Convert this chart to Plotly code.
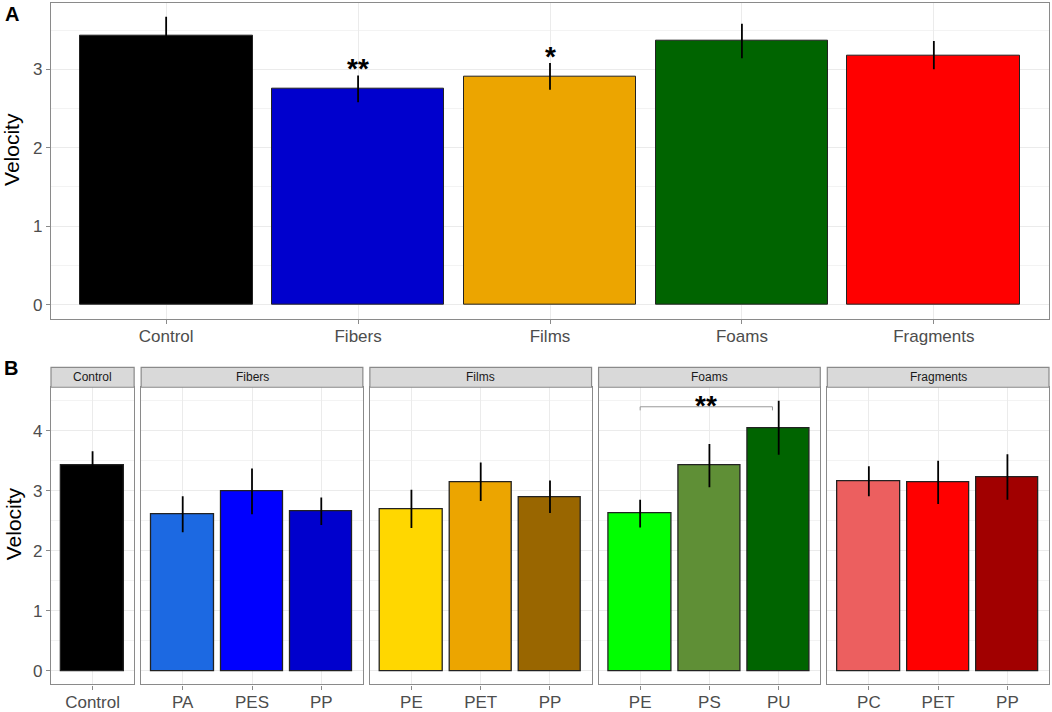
import plotly.graph_objects as go

W, H = 1052, 712

# Panel A: mean velocity by particle shape
shapes_a = ["Control", "Fibers", "Films", "Foams", "Fragments"]
vel_a = [3.43, 2.75, 2.91, 3.36, 3.18]
err_a = [0.24, 0.17, 0.17, 0.22, 0.18]
col_a = ["#000000", "#0000CD", "#ECA500", "#006400", "#FF0000"]
stars_a = ["", "**", "*", "", ""]

# Panel B: velocity by polymer within each shape
groups_b = ["Control", "Fibers", "Films", "Foams", "Fragments"]
polymers_b = [["Control"], ["PA", "PES", "PP"], ["PE", "PET", "PP"],
              ["PE", "PS", "PU"], ["PC", "PET", "PP"]]
vel_b = [[3.43], [2.61, 2.99, 2.66], [2.70, 3.15, 2.90],
         [2.62, 3.42, 4.05], [3.16, 3.14, 3.23]]
err_b = [[0.23], [0.30, 0.38, 0.23], [0.32, 0.32, 0.27],
         [0.23, 0.36, 0.45], [0.25, 0.36, 0.38]]
col_b = [["#000000"], ["#1C69E2", "#0000FF", "#0000CD"],
         ["#FFD700", "#ECA500", "#996600"], ["#00FF00", "#5F8F36", "#006400"],
         ["#EC5F5F", "#FF0000", "#A10000"]]

# significance bracket in Foams panel (PE vs PU)
bracket_panel = 3
bracket_from, bracket_to = 0, 1.91
bracket_y, bracket_tip = 4.40, 4.34
bracket_label = "**"

FONT = "Liberation Sans, Arial, sans-serif"
BORDER = "#8A8A8A"
GRID = "#EBEBEB"
TICKFONT = dict(family=FONT, size=17, color="#4D4D4D")
STARFONT = dict(family=FONT, size=28, color="black")


def fx(px):
    return px / W


def fy(py):
    return 1 - py / H


def style_x(n):
    return dict(type="category", range=[-0.6, n - 0.4], showline=True, mirror=True,
                linecolor=BORDER, linewidth=1.2, ticks="outside", ticklen=4,
                tickcolor=BORDER, tickfont=TICKFONT, ticklabelstandoff=-2,
                showgrid=True, gridcolor=GRID, gridwidth=1, zeroline=False,
                fixedrange=True)


def style_y(rng, top, labels):
    return dict(range=rng, tickvals=list(range(0, top + 1)), showline=True, mirror=True,
                linecolor=BORDER, linewidth=1.2, ticks="outside" if labels else "",
                ticklen=4, tickcolor=BORDER, tickfont=TICKFONT, showticklabels=labels,
                showgrid=True, gridcolor=GRID, gridwidth=1, zeroline=False,
                minor=dict(dtick=0.5, showgrid=True, gridcolor="#F3F3F3", gridwidth=0.6),
                fixedrange=True)


def paper_text(x, y, text, size, color="black", angle=0, anchor="center"):
    return dict(x=fx(x), y=fy(y), xref="paper", yref="paper", text=text,
                textangle=angle, showarrow=False, xanchor=anchor, yanchor="middle",
                font=dict(family=FONT, size=size, color=color))


fig = go.Figure()
layout = {}
annotations = []
shapes = []

# ---- Panel A
fig.add_trace(go.Bar(
    x=shapes_a, y=vel_a, width=0.9, xaxis="x", yaxis="y",
    marker=dict(color=col_a, line=dict(color="#222222", width=1)),
    error_y=dict(type="data", array=err_a, color="black", thickness=1.8, width=0),
    showlegend=False, hoverinfo="x+y"))
layout["xaxis"] = dict(style_x(len(shapes_a)), domain=[fx(51), fx(1049)], anchor="y")
layout["yaxis"] = dict(style_y([-0.18, 3.85], 3, True), domain=[fy(321), fy(2.7)], anchor="x")

for cat, v, e, s in zip(shapes_a, vel_a, err_a, stars_a):
    if s:
        annotations.append(dict(x=cat, y=v + e, xref="x", yref="y", text="<b>%s</b>" % s,
                                showarrow=False, xanchor="center", yanchor="bottom",
                                yshift=-10.5, font=STARFONT))

# ---- Panel B (facets with free x space)
units = [len(p) + 0.2 for p in polymers_b]
gap = 7
left, right = 51, 1049
unit_px = (right - left - gap * (len(units) - 1)) / sum(units)
strip_top, strip_bot, panel_bot = 370, 390, 689.3

x0 = left
for i, grp in enumerate(groups_b):
    k = i + 2
    xa, ya = "x%d" % k, "y%d" % k
    x1 = x0 + units[i] * unit_px
    fig.add_trace(go.Bar(
        x=polymers_b[i], y=vel_b[i], width=0.9, xaxis=xa, yaxis=ya,
        marker=dict(color=col_b[i], line=dict(color="#222222", width=1.3)),
        error_y=dict(type="data", array=err_b[i], color="black", thickness=1.8, width=0),
        showlegend=False, hoverinfo="x+y"))
    layout["xaxis%d" % k] = dict(style_x(len(polymers_b[i])), domain=[fx(x0), fx(x1)], anchor=ya)
    layout["yaxis%d" % k] = dict(style_y([-0.225, 4.725], 4, i == 0),
                                 domain=[fy(panel_bot), fy(strip_bot)], anchor=xa)
    # facet strip
    shapes.append(dict(type="rect", xref="paper", yref="paper", x0=fx(x0), x1=fx(x1),
                       y0=fy(strip_bot), y1=fy(strip_top), fillcolor="#D9D9D9",
                       line=dict(color=BORDER, width=1.2), layer="above"))
    annotations.append(paper_text((x0 + x1) / 2, (strip_top + strip_bot) / 2, grp, 12, "#1A1A1A"))
    if i == bracket_panel:
        for (a, b, c, d) in [(bracket_from, bracket_tip, bracket_from, bracket_y),
                             (bracket_from, bracket_y, bracket_to, bracket_y),
                             (bracket_to, bracket_y, bracket_to, bracket_tip)]:
            shapes.append(dict(type="line", xref=xa, yref=ya, x0=a, y0=b, x1=c, y1=d,
                               line=dict(color="#999999", width=1)))
        annotations.append(dict(x=(bracket_from + bracket_to) / 2, y=bracket_y, xref=xa, yref=ya,
                                text="<b>%s</b>" % bracket_label, showarrow=False,
                                xanchor="center", yanchor="bottom", yshift=-16.5, font=STARFONT))
    x0 = x1 + gap

# axis titles and panel letters
annotations.append(paper_text(12, 151, "Velocity", 21, angle=-90))
annotations.append(paper_text(13, 528, "Velocity", 21, angle=-90))
annotations.append(paper_text(3, 14, "<b>A</b>", 20, anchor="left"))
annotations.append(paper_text(2, 371, "<b>B</b>", 20, anchor="left"))

fig.update_layout(
    width=W, height=H, margin=dict(l=0, r=0, t=0, b=0),
    paper_bgcolor="white", plot_bgcolor="white",
    bargap=0, annotations=annotations, shapes=shapes, **layout)

fig.write_html("out.html", config={"displayModeBar": False},
               post_script="document.body.style.margin='0px';")
